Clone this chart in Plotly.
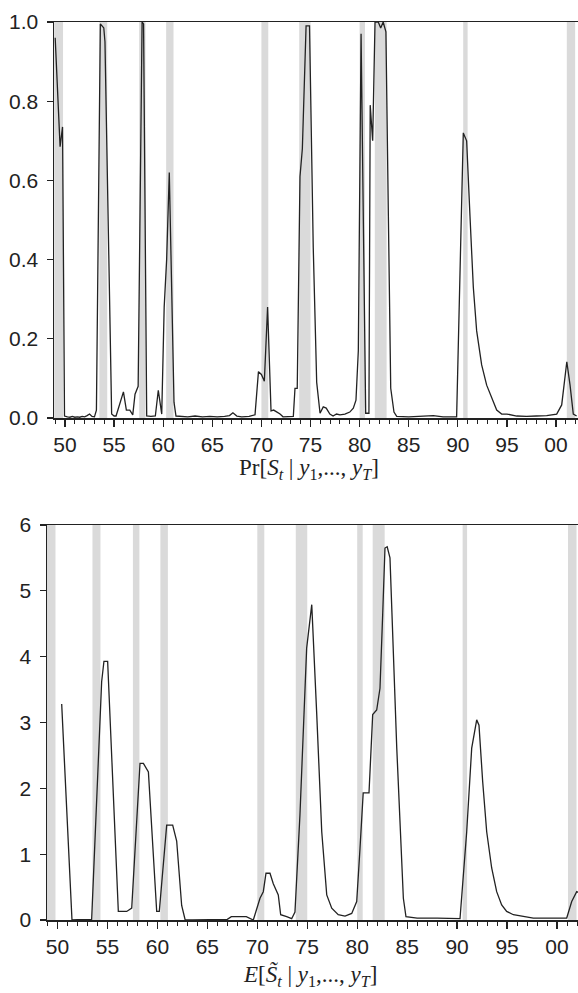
import plotly.graph_objects as go

# ---------------- data ----------------
recession_start = [1948.9, 1953.5, 1957.55, 1960.3, 1970.0, 1973.85, 1980.0, 1981.55, 1990.55, 2001.1]
recession_end = [1949.8, 1954.3, 1958.2, 1961.05, 1970.7, 1975.0, 1980.55, 1982.75, 1991.0, 2001.95]

prob_years = [1949.0, 1949.5, 1949.75, 1949.95, 1950.25, 1950.5, 1950.75, 1951.0, 1951.25, 1951.5,
              1951.75, 1952.0, 1952.25, 1952.5, 1952.75, 1953.0, 1953.2, 1953.6, 1953.95, 1954.07,
              1954.75, 1955.0, 1955.2, 1955.95, 1956.25, 1956.6, 1956.9, 1957.13, 1957.45, 1957.85,
              1958.0, 1958.32, 1958.75, 1959.2, 1959.5, 1959.85, 1960.1, 1960.35, 1960.62, 1960.85,
              1961.1, 1961.3, 1961.75, 1962.5, 1963.25, 1964.0, 1964.75, 1965.5, 1966.25, 1966.75,
              1967.1, 1967.5, 1968.0, 1968.75, 1969.35, 1969.7, 1970.0, 1970.3, 1970.63, 1970.98,
              1971.25, 1971.9, 1972.2, 1973.25, 1973.42, 1973.65, 1973.93, 1974.17, 1974.55, 1974.9,
              1975.28, 1975.63, 1975.97, 1976.3, 1976.6, 1976.97, 1977.3, 1977.65, 1978.0, 1978.5,
              1979.0, 1979.36, 1979.63, 1979.87, 1980.15, 1980.4, 1980.62, 1980.95, 1981.08, 1981.33,
              1981.57, 1981.9, 1982.15, 1982.4, 1982.68, 1982.93, 1983.17, 1983.5, 1983.78, 1985.0,
              1986.5, 1987.5, 1988.5, 1989.88, 1990.56, 1990.9, 1991.24, 1991.58, 1991.92, 1992.43,
              1992.94, 1993.45, 1993.96, 1994.47, 1995.0, 1996.0, 1997.0, 1998.0, 1999.05, 2000.07,
              2000.58, 2001.1, 2001.43, 2001.76, 2002.1]
prob_values = [0.96, 0.685, 0.735, 0.005, 0.003, 0.002, 0.004, 0.002, 0.003, 0.002,
               0.004, 0.003, 0.006, 0.010, 0.004, 0.003, 0.02, 0.995, 0.985, 0.95,
               0.01, 0.005, 0.005, 0.066, 0.02, 0.02, 0.008, 0.06, 0.08, 1.0,
               0.995, 0.005, 0.004, 0.005, 0.07, 0.01, 0.28, 0.40, 0.62, 0.30,
               0.04, 0.005, 0.004, 0.003, 0.005, 0.003, 0.004, 0.003, 0.004, 0.006,
               0.013, 0.005, 0.003, 0.004, 0.008, 0.117, 0.11, 0.093, 0.28, 0.018,
               0.02, 0.01, 0.003, 0.004, 0.075, 0.075, 0.61, 0.68, 0.99, 0.99,
               0.43, 0.09, 0.012, 0.028, 0.025, 0.01, 0.005, 0.01, 0.008, 0.01,
               0.015, 0.025, 0.045, 0.17, 0.97, 0.45, 0.012, 0.012, 0.79, 0.70,
               1.0, 1.0, 0.985, 1.0, 0.975, 0.51, 0.075, 0.015, 0.004, 0.003,
               0.004, 0.006, 0.003, 0.003, 0.72, 0.70, 0.51, 0.33, 0.22, 0.134,
               0.083, 0.05, 0.02, 0.01, 0.01, 0.005, 0.004, 0.005, 0.006, 0.01,
               0.033, 0.142, 0.083, 0.01, 0.005]

exp_years = [1950.42, 1951.45, 1952.0, 1952.75, 1953.42, 1954.42, 1954.65, 1955.02, 1956.09, 1956.93,
             1957.43, 1958.26, 1958.6, 1959.1, 1959.93, 1960.19, 1960.62, 1960.93, 1961.53, 1961.93,
             1962.43, 1962.78, 1963.5, 1965.0, 1967.0, 1967.4, 1968.9, 1969.6, 1970.27, 1970.6,
             1970.87, 1971.27, 1971.6, 1972.1, 1972.34, 1972.94, 1973.44, 1973.77, 1974.27, 1974.94,
             1975.45, 1975.95, 1976.45, 1976.95, 1977.45, 1978.1, 1978.78, 1979.45, 1979.95, 1980.28,
             1980.6, 1981.18, 1981.55, 1981.95, 1982.28, 1982.55, 1982.78, 1983.0, 1983.28, 1983.96,
             1984.62, 1984.88, 1986.0, 1988.0, 1990.29, 1990.96, 1991.46, 1991.96, 1992.19, 1992.56,
             1992.96, 1993.46, 1993.96, 1994.46, 1994.96, 1995.63, 1996.96, 1997.63, 2000.97, 2001.47,
             2001.97, 2002.1]
exp_values = [3.28, 0.0, 0.005, 0.005, 0.01, 3.62, 3.93, 3.93, 0.13, 0.13,
              0.18, 2.38, 2.38, 2.25, 0.13, 0.13, 0.85, 1.44, 1.44, 1.2,
              0.22, 0.0, 0.0, 0.0, 0.01, 0.05, 0.05, 0.0, 0.33, 0.43,
              0.71, 0.71, 0.55, 0.38, 0.08, 0.05, 0.02, 0.12, 1.6, 4.13,
              4.79, 3.12, 1.34, 0.38, 0.18, 0.08, 0.06, 0.1, 0.28, 1.09,
              1.93, 1.93, 3.12, 3.19, 3.52, 4.64, 5.65, 5.67, 5.5, 2.61,
              0.33, 0.05, 0.03, 0.03, 0.02, 1.34, 2.61, 3.04, 2.96, 2.1,
              1.34, 0.79, 0.43, 0.23, 0.13, 0.08, 0.05, 0.03, 0.03, 0.28,
              0.43, 0.42]

year_ticks = [1950, 1955, 1960, 1965, 1970, 1975, 1980, 1985, 1990, 1995, 2000]
year_labels = ["50", "55", "60", "65", "70", "75", "80", "85", "90", "95", "00"]
prob_ticks = [0.0, 0.2, 0.4, 0.6, 0.8, 1.0]
exp_ticks = [0, 1, 2, 3, 4, 5, 6]

title_top = "Pr[<i>S</i><sub><i>t</i></sub> | <i>y</i><sub>1</sub>,..., <i>y</i><sub><i>T</i></sub>]"
title_bottom = "<i>E</i>[<i>S\u0303</i><sub><i>t</i></sub> | <i>y</i><sub>1</sub>,..., <i>y</i><sub><i>T</i></sub>]"

# ---------------- figure ----------------
W, H = 578, 993
INK = "#222222"
SHADE = "#dadada"
TICKFONT = dict(family="Liberation Sans, Arial, sans-serif", size=21, color=INK)
SERIF = dict(family="Liberation Serif, Times New Roman, serif", size=23, color=INK)

fig = go.Figure()
fig.add_trace(go.Scatter(x=prob_years, y=prob_values, mode="lines",
                         line=dict(color=INK, width=1.3), xaxis="x", yaxis="y",
                         showlegend=False, cliponaxis=True, hoverinfo="skip"))
fig.add_trace(go.Scatter(x=exp_years, y=exp_values, mode="lines",
                         line=dict(color=INK, width=1.3), xaxis="x2", yaxis="y2",
                         showlegend=False, cliponaxis=True, hoverinfo="skip"))

shapes = []
for s, e in zip(recession_start, recession_end):
    for xr, yr in (("x", "y domain"), ("x2", "y2 domain")):
        shapes.append(dict(type="rect", xref=xr, yref=yr, x0=s, x1=e, y0=0, y1=1,
                           fillcolor=SHADE, line=dict(width=0), layer="below"))

common_x = dict(tickvals=year_ticks, ticktext=year_labels, ticks="outside", ticklen=7,
                tickwidth=1.3, tickcolor=INK, showline=True, linecolor=INK, linewidth=1.5,
                mirror=True, showgrid=False, zeroline=False, tickfont=TICKFONT,
                automargin=False, ticklabelstandoff=0,
                minor=dict(dtick=1, tick0=1950, ticks="outside", ticklen=4, tickwidth=1,
                           tickcolor=INK, showgrid=False))
common_y = dict(ticks="outside", ticklen=6, tickwidth=1.3, tickcolor=INK, showline=True,
                linecolor=INK, linewidth=1.5, showgrid=False, zeroline=False,
                tickfont=TICKFONT, automargin=False, ticklabelstandoff=4)

fig.update_layout(
    width=W, height=H,
    margin=dict(l=0, r=0, t=0, b=0),
    paper_bgcolor="white", plot_bgcolor="white",
    shapes=shapes,
    xaxis=dict(common_x, domain=[54 / W, 1], range=[1948.88, 2002.24], anchor="y"),
    yaxis=dict(common_y, domain=[1 - 418 / H, 1 - 22 / H], range=[0, 1],
               tickvals=prob_ticks, tickformat=".1f", anchor="x"),
    xaxis2=dict(common_x, domain=[47 / W, 1], range=[1948.95, 2002.1], anchor="y2"),
    yaxis2=dict(common_y, domain=[1 - 920 / H, 1 - 525 / H], range=[0, 6],
                tickvals=exp_ticks, anchor="x2"),
    annotations=[
        dict(text=title_top, x=309 / W, y=1 - 469 / H, xref="paper", yref="paper",
             showarrow=False, xanchor="center", yanchor="middle", font=SERIF),
        dict(text=title_bottom, x=310 / W, y=1 - 975 / H, xref="paper", yref="paper",
             showarrow=False, xanchor="center", yanchor="middle", font=SERIF),
    ],
)

fig.write_html("out.html",
               config={"displayModeBar": False, "staticPlot": True},
               post_script="document.body.style.margin='0';document.body.style.overflow='hidden';")
